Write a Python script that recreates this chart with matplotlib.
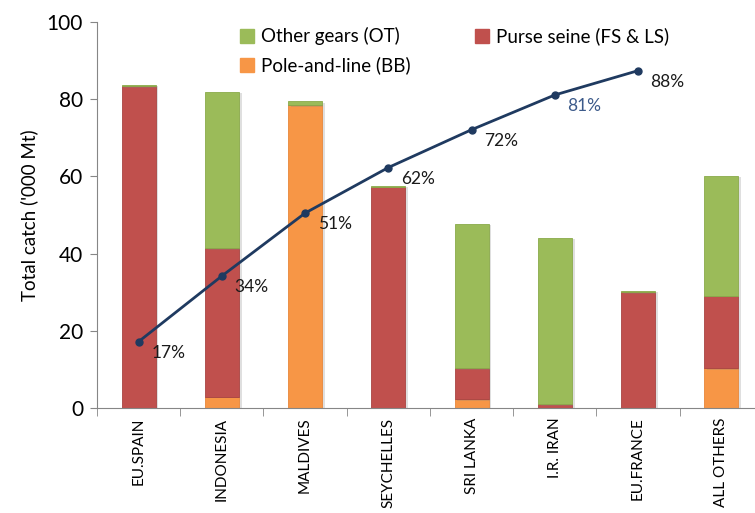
import matplotlib.pyplot as plt
import matplotlib.patheffects as pe
from matplotlib.patches import Patch
import numpy as np

plt.rcParams["font.family"] = ["Lato", "DejaVu Sans"]

countries = ["EU.SPAIN", "INDONESIA", "MALDIVES", "SEYCHELLES",
             "SRI LANKA", "I.R. IRAN", "EU.FRANCE", "ALL OTHERS"]
pole_line = [0.0, 2.9, 78.4, 0.0, 2.2, 0.0, 0.0, 10.3]
purse_seine = [83.3, 38.5, 0.0, 57.3, 8.1, 1.0, 30.0, 18.8]
other_gears = [0.4, 40.5, 1.1, 0.3, 37.4, 43.1, 0.3, 31.1]
cum_pct = [17.2, 34.2, 50.5, 62.3, 72.1, 81.1, 87.4]
cum_labels = ["17%", "34%", "51%", "62%", "72%", "81%", "88%"]

c_green = "#9BBB59"
c_red = "#C0504D"
c_orange = "#F79646"
c_line = "#1F3A60"

fig = plt.figure(figsize=(7.55, 5.13), dpi=100)
ax = fig.add_axes([0.1285, 0.2047, 0.882, 0.7524])

x = np.arange(len(countries))
w = 0.41
shadow = [pe.SimplePatchShadow(offset=(2, -1), alpha=0.25, shadow_rgbFace="#808080"), pe.Normal()]
b1 = ax.bar(x, pole_line, w, color=c_orange, edgecolor="#E8873A", linewidth=0.6)
b2 = ax.bar(x, purse_seine, w, bottom=pole_line, color=c_red, edgecolor="#A94442", linewidth=0.6)
bot3 = np.array(pole_line) + np.array(purse_seine)
b3 = ax.bar(x, other_gears, w, bottom=bot3, color=c_green, edgecolor="#8AAA4A", linewidth=0.6)
for bars in (b1, b2, b3):
    for p in bars:
        p.set_path_effects(shadow)

ax.plot(x[:len(cum_pct)], cum_pct, color=c_line, lw=2, marker="o", ms=5, zorder=5)
for i, (v, t) in enumerate(zip(cum_pct, cum_labels)):
    col = "#3C5A8A" if t == "81%" else "#1a1a1a"
    ax.annotate(t, (i, v), xytext=(9, -8), textcoords="offset points",
                fontsize=12.5, color=col, va="center", ha="left")

ax.set_xlim(-0.5, len(countries) - 0.5)
ax.set_ylim(0, 100)
ax.set_yticks([0, 20, 40, 60, 80, 100])
ax.tick_params(axis="y", labelsize=15, length=5, color="#868686", pad=5)
ax.set_xticks(x)
ax.set_xticklabels(countries, rotation=90, fontsize=11)
ax.set_xticks(np.arange(-0.5, len(countries), 1), minor=True)
ax.tick_params(axis="x", which="major", length=0, pad=7)
ax.tick_params(axis="x", which="minor", length=6, color="#868686")
ax.set_ylabel("Total catch ('000 Mt)", fontsize=13.5, labelpad=6)

for s in ("top", "right"):
    ax.spines[s].set_visible(False)
for s in ("left", "bottom"):
    ax.spines[s].set_color("#868686")

handles = [Patch(color=c_green, label="Other gears (OT)"),
           Patch(color=c_orange, label="Pole-and-line (BB)"),
           Patch(color=c_red, label="Purse seine (FS & LS)")]
fig.legend(handles=handles, ncol=2, loc="upper left", bbox_to_anchor=(0.295, 0.98),
           frameon=False, fontsize=13.5, handlelength=0.75, handleheight=0.75,
           handletextpad=0.4, columnspacing=3.4, labelspacing=0.6)

fig.savefig("out.png", dpi=100)
